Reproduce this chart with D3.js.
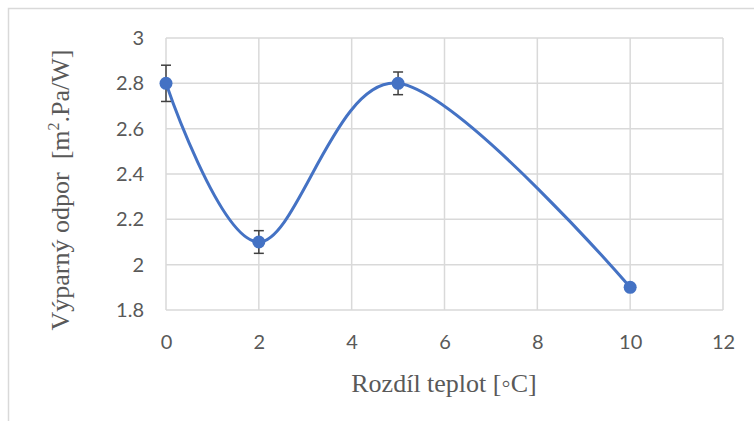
<!DOCTYPE html>
<html>
<head>
<meta charset="utf-8">
<script src="https://cdn.jsdelivr.net/npm/d3@7"></script>
<style>
  body { margin: 0; background: #fff; }
</style>
</head>
<body>
<div id="chart"></div>
<script>
// data
var tempDiff = [0, 2, 5, 10];
var resistance = [2.8, 2.1, 2.8, 1.9];
var errPlus = [0.08, 0.05, 0.05, 0];
var xTicks = [0, 2, 4, 6, 8, 10, 12];
var yTicks = [1.8, 2, 2.2, 2.4, 2.6, 2.8, 3];

var width = 754, height = 421;
var plotLeft = 166, plotTop = 38, plotRight = 723, plotBottom = 310;

var svg = d3.select("#chart")
    .append("svg")
    .attr("width", width)
    .attr("height", height);

// outer frame (cropped at right and bottom)
svg.append("rect")
    .attr("x", 8.5).attr("y", 8.5)
    .attr("width", 760).attr("height", 430)
    .attr("fill", "none")
    .attr("stroke", "#d9d9d9")
    .attr("stroke-width", 1.5);

var x = d3.scaleLinear().domain([0, 12]).range([plotLeft, plotRight]);
var y = d3.scaleLinear().domain([1.8, 3]).range([plotBottom, plotTop]);

// grid
svg.append("g").selectAll("line")
    .data(xTicks)
  .enter().append("line")
    .attr("x1", d => x(d)).attr("x2", d => x(d))
    .attr("y1", plotTop).attr("y2", plotBottom)
    .attr("stroke", "#d9d9d9").attr("stroke-width", 1.5);

svg.append("g").selectAll("line")
    .data(yTicks)
  .enter().append("line")
    .attr("x1", plotLeft).attr("x2", plotRight)
    .attr("y1", d => y(d)).attr("y2", d => y(d))
    .attr("stroke", "#d9d9d9").attr("stroke-width", 1.5);

// tick labels
var xAxis = svg.append("g")
    .attr("transform", "translate(0," + plotBottom + ")")
    .call(d3.axisBottom(x).tickValues(xTicks).tickSize(0).tickPadding(25));
xAxis.select(".domain").remove();
xAxis.selectAll("text")
    .attr("font-family", "Lato, 'Open Sans', sans-serif")
    .attr("font-size", 20)
    .attr("fill", "#595959");

var yAxis = svg.append("g")
    .attr("transform", "translate(" + (plotLeft - 22) + ",0)")
    .call(d3.axisLeft(y).tickValues(yTicks).tickSize(0).tickPadding(0)
        .tickFormat(d3.format("")));
yAxis.select(".domain").remove();
yAxis.selectAll("text")
    .attr("font-family", "Lato, 'Open Sans', sans-serif")
    .attr("font-size", 20)
    .attr("fill", "#595959");

// smoothed line
var points = tempDiff.map((d, i) => [d, resistance[i]]);
var line = d3.line()
    .x(d => x(d[0]))
    .y(d => y(d[1]))
    .curve(d3.curveCardinal.tension(0));

svg.append("path")
    .datum(points)
    .attr("fill", "none")
    .attr("stroke", "#4472C4")
    .attr("stroke-width", 3)
    .attr("stroke-linejoin", "round")
    .attr("d", line);

// error bars
var eb = svg.append("g").attr("stroke", "#404040").attr("stroke-width", 1.5);
tempDiff.forEach(function(d, i) {
    if (!errPlus[i]) return;
    var cx = x(d), y1 = y(resistance[i] + errPlus[i]), y2 = y(resistance[i] - errPlus[i]);
    eb.append("line").attr("x1", cx).attr("x2", cx).attr("y1", y1).attr("y2", y2);
    eb.append("line").attr("x1", cx - 5).attr("x2", cx + 5).attr("y1", y1).attr("y2", y1);
    eb.append("line").attr("x1", cx - 5).attr("x2", cx + 5).attr("y1", y2).attr("y2", y2);
});

// markers
svg.selectAll(".dot")
    .data(points)
  .enter().append("circle")
    .attr("class", "dot")
    .attr("cx", d => x(d[0]))
    .attr("cy", d => y(d[1]))
    .attr("r", 6.5)
    .attr("fill", "#4472C4");

// axis titles
svg.append("text")
    .attr("x", 444)
    .attr("y", 392)
    .attr("text-anchor", "middle")
    .attr("font-family", "'Liberation Serif', 'Times New Roman', serif")
    .attr("font-size", 26)
    .attr("fill", "#595959")
    .text("Rozdíl teplot [\u25E6C]");

var yt = svg.append("text")
    .attr("transform", "translate(69," + 190 + ") rotate(-90)")
    .attr("text-anchor", "middle")
    .attr("font-family", "'Liberation Serif', 'Times New Roman', serif")
    .attr("font-size", 26)
    .attr("fill", "#595959");
yt.append("tspan").text("Výparný odpor\u00A0 [m");
yt.append("tspan").attr("font-size", 16).attr("dy", -10).text("2");
yt.append("tspan").attr("dy", 10).text(".Pa/W]");
</script>
</body>
</html>
